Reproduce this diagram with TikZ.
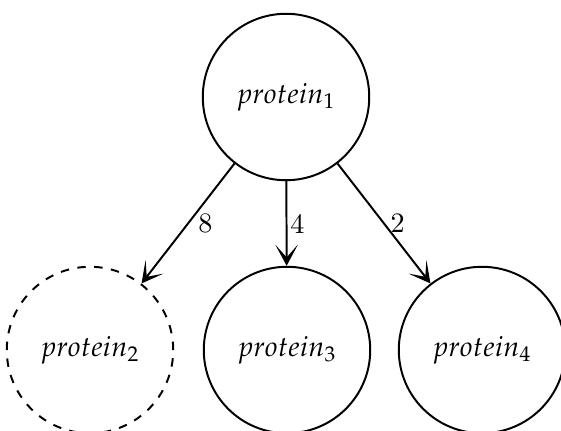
\documentclass[tikz,border=0pt]{standalone}
\usepackage{mathpazo}
\usetikzlibrary{arrows.meta}
\tikzset{
  prot/.style={circle,draw,line width=0.7pt,minimum size=2.08cm,inner sep=0pt},
  link/.style={line width=0.7pt,-{Stealth[length=7.5pt,width=8pt,inset=4.5pt]}}
}
\begin{document}
\begin{tikzpicture}[x=0.0125cm,y=-0.0125cm]
    \useasboundingbox (0,0) rectangle (561,430);
    \node[prot] (p1) at (286,97) {$protein_1$};
    \node[prot,dashed] (p2) at (90,350) {$protein_2$};
    \node[prot] (p3) at (287,350) {$protein_3$};
    \node[prot] (p4) at (482,350) {$protein_4$};
    \draw[link] (p1) -- node[right] {8} (p2);
    \draw[link] (p1) -- node[right,inner sep=1pt] {4} (p3);
    \draw[link] (p1) -- node[right,inner sep=2pt] {2} (p4);
  \end{tikzpicture}
\end{document}
